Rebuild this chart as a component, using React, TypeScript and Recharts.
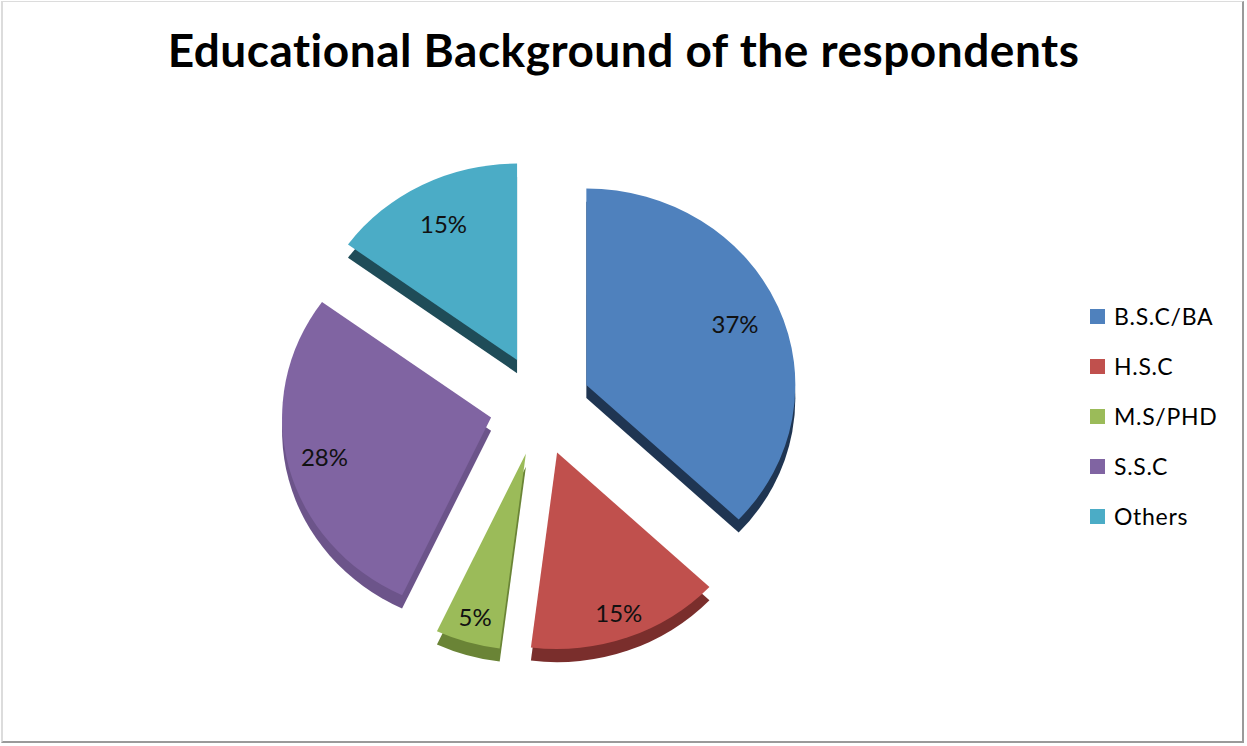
import React from 'react'
import { PieChart, Pie, Cell } from 'recharts'

const categories = ['B.S.C/BA', 'H.S.C', 'M.S/PHD', 'S.S.C', 'Others']
const shares = [37, 15, 5, 28, 15]
const colors = ['#4f81bd', '#c0504d', '#9bbb59', '#8064a2', '#4bacc6']
const sideColors = ['#1f3552', '#7a2e2c', '#6a8436', '#6c548a', '#1f4c58']

const data = categories.map((name, i) => ({ name, value: shares[i] }))

const W = 1247
const H = 746
// pie is drawn in an svg squashed vertically to fake the 3D tilt
const TILT = 0.94
const CX = 540
const CY = 405 / TILT
const R = 209
const EXPLODE = 50.5
const DEPTH = 14
const LABEL_R = [162, 182, 182, 172, 162]
const FONT = 'Lato, "Open Sans", sans-serif'
const RADIAN = Math.PI / 180

// mid angle of each slice, same convention as recharts (deg, ccw from 3 o'clock)
const total = shares.reduce((a, b) => a + b, 0)
const midAngles = shares.map((v, i) => {
  const before = shares.slice(0, i).reduce((a, b) => a + b, 0)
  return 90 - (360 * (before + v / 2)) / total
})
// explosion is not squashed by the tilt
const offsetOf = (i: number) => ({
  dx: EXPLODE * Math.cos(midAngles[i] * RADIAN),
  dy: (-EXPLODE * Math.sin(midAngles[i] * RADIAN)) / TILT,
})

export default function App() {
  const sliceLabel = (slice: number) => (props: any) => {
    if (props.index !== slice) return null
    const r = LABEL_R[slice]
    const x = props.cx + r * Math.cos(-props.midAngle * RADIAN)
    const y = props.cy + r * Math.sin(-props.midAngle * RADIAN)
    return (
      <text x={x} y={y} textAnchor="middle" dominantBaseline="central"
        fontFamily={FONT} fontSize={24} fill="#111">
        {`${shares[slice]}%`}
      </text>
    )
  }

  return (
    <div style={{ position: 'absolute', left: 0, top: 0, width: W, height: H, background: '#fff' }}>
      <div style={{
        position: 'absolute', left: 1, top: 1, width: W - 4, height: H - 4,
        borderTop: '1px solid #dcdcdc', borderLeft: '2px solid #dcdcdc',
        borderRight: '2px solid #9a9a9a', borderBottom: '2px solid #9a9a9a',
        boxSizing: 'border-box',
      }} />
      <div style={{
        position: 'absolute', left: 0, top: 22, width: W, textAlign: 'center',
        fontFamily: FONT, fontWeight: 700, fontSize: 46, letterSpacing: 0.5, color: '#000',
      }}>
        Educational Background of the respondents
      </div>
      <div style={{ position: 'absolute', left: 0, top: 0, transform: `scaleY(${TILT})`, transformOrigin: '0 0' }}>
        <PieChart width={W} height={Math.round(H / TILT)} margin={{ top: 0, right: 0, bottom: 0, left: 0 }}>
          {categories.map((c, i) => {
            const { dx, dy } = offsetOf(i)
            return (
              <Pie key={`side-${c}`} data={data} dataKey="value" nameKey="name"
                cx={CX + dx} cy={CY + dy + DEPTH} outerRadius={R}
                startAngle={90} endAngle={-270} stroke="none"
                legendType="none" isAnimationActive={false}>
                {data.map((d, j) => (
                  <Cell key={d.name} fill={j === i ? sideColors[i] : 'none'} />
                ))}
              </Pie>
            )
          })}
          {categories.map((c, i) => {
            const { dx, dy } = offsetOf(i)
            return (
              <Pie key={`top-${c}`} data={data} dataKey="value" nameKey="name"
                cx={CX + dx} cy={CY + dy} outerRadius={R}
                startAngle={90} endAngle={-270} stroke="none"
                label={sliceLabel(i)} labelLine={false}
                legendType="none" isAnimationActive={false}>
                {data.map((d, j) => (
                  <Cell key={d.name} fill={j === i ? colors[i] : 'none'} />
                ))}
              </Pie>
            )
          })}
        </PieChart>
      </div>
      <div style={{ position: 'absolute', left: 1090, top: 291, fontFamily: FONT, fontSize: 23, letterSpacing: 0.7, color: '#000' }}>
        {categories.map((c, i) => (
          <div key={c} style={{ display: 'flex', alignItems: 'center', height: 50 }}>
            <span style={{ display: 'inline-block', width: 15, height: 15, background: colors[i], marginRight: 9 }} />
            <span>{c}</span>
          </div>
        ))}
      </div>
    </div>
  )
}
